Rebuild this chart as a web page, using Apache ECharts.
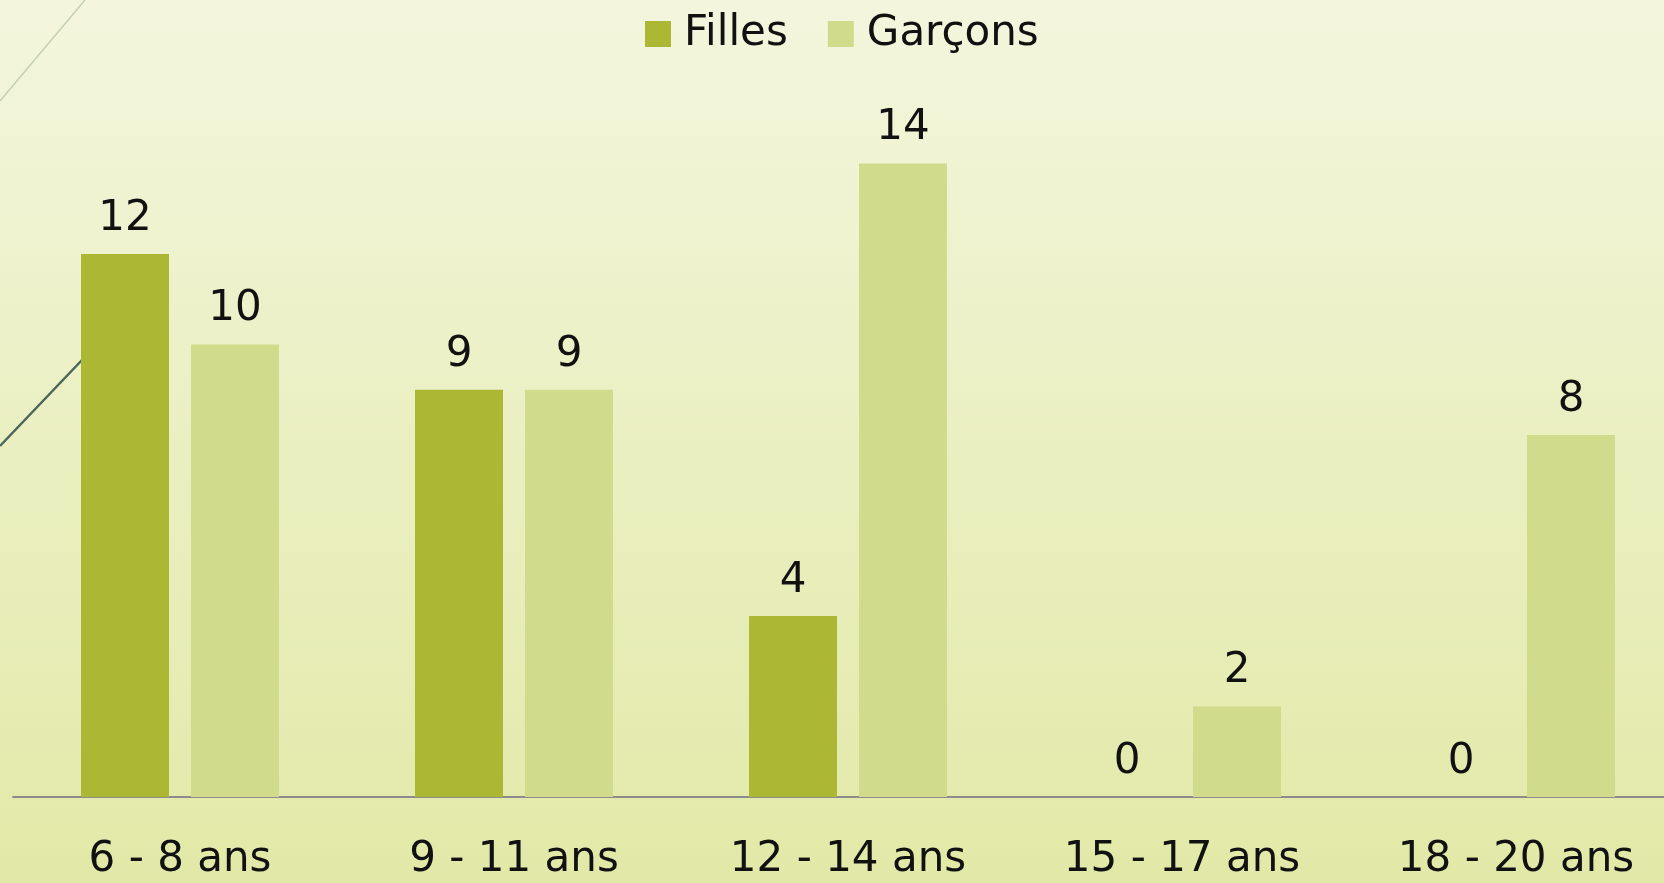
<!DOCTYPE html>
<html>
<head>
<meta charset="utf-8">
<script src="https://cdn.jsdelivr.net/npm/echarts@6/dist/echarts.min.js"></script>
<style>
  html, body { margin: 0; padding: 0; overflow: hidden; }
  #chart-container { width: 1683px; height: 883px; }
</style>
</head>
<body>
<div id="chart-container"></div>
<script>
var categories = ['6 - 8 ans', '9 - 11 ans', '12 - 14 ans', '15 - 17 ans', '18 - 20 ans'];
var filles = [12, 9, 4, 0, 0];
var garcons = [10, 9, 14, 2, 8];

var dom = document.getElementById('chart-container');
var myChart = echarts.init(dom, null, {
    renderer: 'canvas',
    useDirtyRect: false
});

var font = 'DejaVu Sans';

var option = {
    backgroundColor: new echarts.graphic.LinearGradient(0, 0, 0, 1, [
        { offset: 0, color: '#f3f6dd' },
        { offset: 1, color: '#e2e9a7' }
    ]),
    animation: false,
    graphic: [
        {
            type: 'line',
            shape: { x1: 0, y1: 101, x2: 85, y2: 0 },
            style: { stroke: '#c6d0b2', lineWidth: 1.5 },
            z: 0
        },
        {
            type: 'line',
            shape: { x1: 0, y1: 446, x2: 82, y2: 360 },
            style: { stroke: '#4b675a', lineWidth: 2.5 },
            z: 0
        }
    ],
    legend: {
        top: 8,
        left: 640,
        itemWidth: 26,
        itemHeight: 26,
        itemGap: 40,
        icon: 'rect',
        textStyle: {
            fontFamily: font,
            fontSize: 42,
            color: '#111',
            padding: [0, 0, 0, 8]
        },
        data: ['Filles', 'Garçons']
    },
    grid: {
        left: 13,
        right: 0,
        top: 73,
        bottom: 86,
        containLabel: false
    },
    xAxis: {
        type: 'category',
        data: categories,
        axisTick: { show: false },
        axisLine: { lineStyle: { color: '#8c8c8c', width: 2 } },
        axisLabel: {
            fontFamily: font,
            fontSize: 42,
            color: '#111',
            margin: 42
        }
    },
    yAxis: {
        type: 'value',
        min: 0,
        max: 16,
        show: false,
        splitLine: { show: false }
    },
    series: [
        {
            name: 'Filles',
            type: 'bar',
            data: filles,
            barWidth: 88,
            barGap: '25%',
            itemStyle: { color: '#acb833' },
            label: {
                show: true,
                position: 'top',
                distance: 14,
                fontFamily: font,
                fontSize: 42,
                color: '#111'
            }
        },
        {
            name: 'Garçons',
            type: 'bar',
            data: garcons,
            barWidth: 88,
            barGap: '25%',
            itemStyle: { color: '#d0dc8c' },
            label: {
                show: true,
                position: 'top',
                distance: 14,
                fontFamily: font,
                fontSize: 42,
                color: '#111'
            }
        }
    ]
};

if (option && typeof option === 'object') {
    myChart.setOption(option);
}

window.addEventListener('resize', myChart.resize);
</script>
</body>
</html>
